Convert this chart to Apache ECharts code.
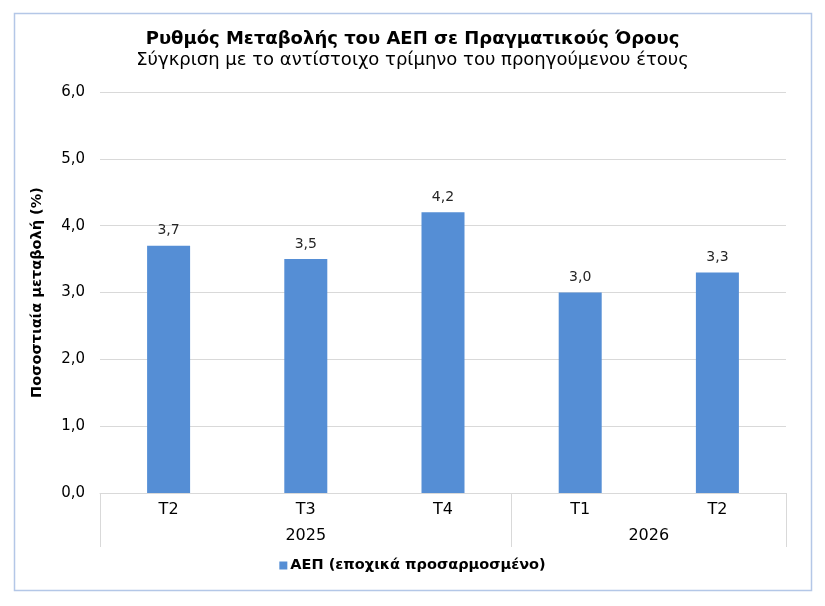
<!DOCTYPE html>
<html><head><meta charset="utf-8">
<script src="https://cdn.jsdelivr.net/npm/echarts@6/dist/echarts.min.js"></script>
<style>html,body{margin:0;padding:0;background:#fff}#c{width:825px;height:606px}</style>
</head><body><div id="c"></div>
<script>
const quarters = ['T2','T3','T4','T1','T2'];
const years = ['2025','2026'];
const yearSpans = [3, 2];
const gdpGrowth = [3.7, 3.5, 4.2, 3.0, 3.3];
const seriesName = 'ΑΕΠ (εποχικά προσαρμοσμένο)';

const FONT = 'DejaVu Sans';
const fmt = v => Number(v).toFixed(1).replace('.', ',');

const bounds = [0]; yearSpans.forEach(s => bounds.push(bounds[bounds.length-1] + s));
const centers = yearSpans.map((s,i) => bounds[i] + s/2);

const chart = echarts.init(document.getElementById('c'));
chart.setOption({
  animation: false,
  textStyle: { fontFamily: FONT },
  graphic: [{ type:'rect', shape:{x:14.5,y:13.5,width:797,height:577}, style:{fill:'none', stroke:'#b4c7e7', lineWidth:1.5}, z:-1 }],
  title: [
    { text: 'Ρυθμός Μεταβολής του ΑΕΠ σε Πραγματικούς Όρους', left: 'center', top: 25,
      textStyle: { fontFamily: FONT, fontSize: 18, fontWeight: 'bold', color: '#000' } },
    { text: 'Σύγκριση με το αντίστοιχο τρίμηνο του προηγούμενου έτους', left: 'center', top: 46,
      textStyle: { fontFamily: FONT, fontSize: 18, fontWeight: 'normal', color: '#000' } }
  ],
  grid: { left: 100, right: 39, top: 92, bottom: 113 },
  legend: {
    bottom: 28, left: 'center', itemWidth: 8, itemHeight: 8, itemGap: 4, icon: 'rect',
    textStyle: { fontFamily: FONT, fontSize: 14.5, fontWeight: 'bold', color: '#000', padding: [0,0,0,-2] },
    data: [seriesName]
  },
  xAxis: [
    { type: 'category', data: quarters, position: 'bottom',
      axisLine: { lineStyle: { color: '#d9d9d9', width: 1 } },
      axisTick: { show: false },
      axisLabel: { color: '#000', fontSize: 16, margin: 9, fontFamily: FONT } },
    { type: 'value', min: 0, max: bounds[bounds.length-1], position: 'bottom',
      axisLine: { show: false }, splitLine: { show: false },
      axisTick: { show: true, customValues: bounds, length: 54, lineStyle: { color: '#d9d9d9' } },
      axisLabel: { customValues: centers, formatter: v => years[centers.indexOf(v)] || '',
        color: '#000', fontSize: 16, margin: 35, fontFamily: FONT } }
  ],
  yAxis: {
    type: 'value', min: 0, max: 6, interval: 1,
    name: 'Ποσοστιαία μεταβολή (%)', nameLocation: 'middle', nameGap: 55, nameRotate: 90,
    nameTextStyle: { fontFamily: FONT, fontSize: 14.5, fontWeight: 'bold', color: '#000' },
    axisLine: { show: false }, axisTick: { show: false },
    axisLabel: { formatter: fmt, color: '#000', fontSize: 15, margin: 15, fontFamily: FONT },
    splitLine: { lineStyle: { color: '#d9d9d9', width: 1 } }
  },
  series: [{
    name: seriesName, type: 'bar', xAxisIndex: 0, data: gdpGrowth, barWidth: 43,
    itemStyle: { color: '#558ed5' },
    label: { show: true, position: 'top', distance: 8, formatter: p => fmt(p.value),
      color: '#262626', fontSize: 14, fontFamily: FONT }
  }]
});
</script></body></html>
